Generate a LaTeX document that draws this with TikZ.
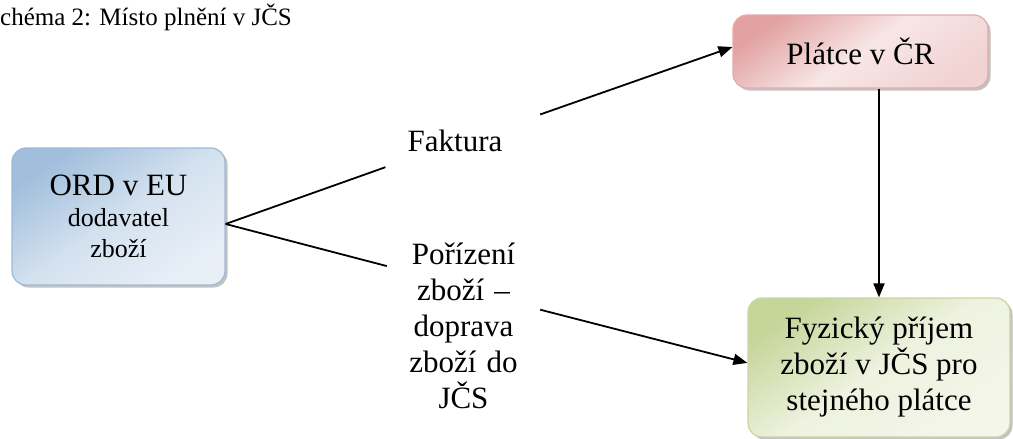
\documentclass[tikz,border=0pt]{standalone}
\usepackage{fontspec}
\setmainfont{Liberation Serif}
\usetikzlibrary{arrows.meta,shadows,calc}
\definecolor{bluedark}{HTML}{A1BEDC}
\definecolor{bluemid}{HTML}{D3E1EF}
\definecolor{bluelight}{HTML}{E8EFF7}
\definecolor{blueline}{HTML}{9CBAD8}
\definecolor{pinkdark}{HTML}{E2A2A2}
\definecolor{pinkmid}{HTML}{F8E6E6}
\definecolor{pinklight}{HTML}{F1D3D3}
\definecolor{pinkline}{HTML}{E2ABAB}
\definecolor{greendark}{HTML}{C6D59A}
\definecolor{greenmid}{HTML}{EEF2DF}
\definecolor{greenlight}{HTML}{F3F6E9}
\definecolor{greenline}{HTML}{C9D6A2}
\tikzset{
  box/.style={rectangle, rounded corners=14pt, line width=1.2pt, align=center,
    inner sep=0pt, drop shadow={shadow xshift=2.5pt, shadow yshift=-2.5pt, fill=black!40, opacity=0.6}},
  bluebox/.style={box, draw=blueline, top color=bluedark, bottom color=bluelight, middle color=bluemid, shading angle=35},
  pinkbox/.style={box, draw=pinkline, top color=pinkdark, bottom color=pinklight, middle color=pinkmid, shading angle=35},
  greenbox/.style={box, draw=greenline, top color=greendark, bottom color=greenlight, middle color=greenmid, shading angle=35},
  lbl/.style={inner sep=0pt, align=center},
  conn/.style={line width=1.8pt, black},
  arr/.style={conn, -{Triangle[length=14pt,width=11pt]}},
  big/.style={font=\fontsize{31}{36}\selectfont},
}
\begin{document}
\begin{tikzpicture}[x=1pt,y=-1pt]
\useasboundingbox (0,0) rectangle (1013,439);
\node[lbl, anchor=base west, font=\fontsize{25}{28}\selectfont] (title) at (0,25) {chéma 2: Místo plnění v JČS};
\node[bluebox, font=\fontsize{26}{31}\selectfont, minimum width=213pt, minimum height=137pt] (ord) at (118.5,216.5)
  {{\fontsize{31}{31}\selectfont ORD v EU}\\ dodavatel\\ zboží};
\node[pinkbox, big, minimum width=255pt, minimum height=73pt] (platce) at (860.5,51.5) {Plátce v ČR};
\node[greenbox, big, minimum width=262pt, minimum height=139pt] (fyz) at (879,367.5)
  {Fyzický příjem\\ zboží v JČS pro\\ stejného plátce};
\node[lbl, big, minimum width=170pt, minimum height=53pt] (faktura) at (455,140.5) {Faktura};
\node[lbl, big, text width=153pt, minimum height=190pt] (porizeni) at (463.5,326)
  {Pořízení\\ zboží –\\ doprava\\ zboží do\\ JČS};
\draw[conn] (ord.-4.6) -- (faktura.201.3);
\draw[arr] (faktura.17.7) -- (platce.178);
\draw[conn] (ord.-4.6) -- (porizeni.142.8);
\draw[arr] (porizeni.12.5) -- (fyz.178);
\draw[arr] (platce.south -| fyz.north) -- (fyz.north);
\end{tikzpicture}
\end{document}
